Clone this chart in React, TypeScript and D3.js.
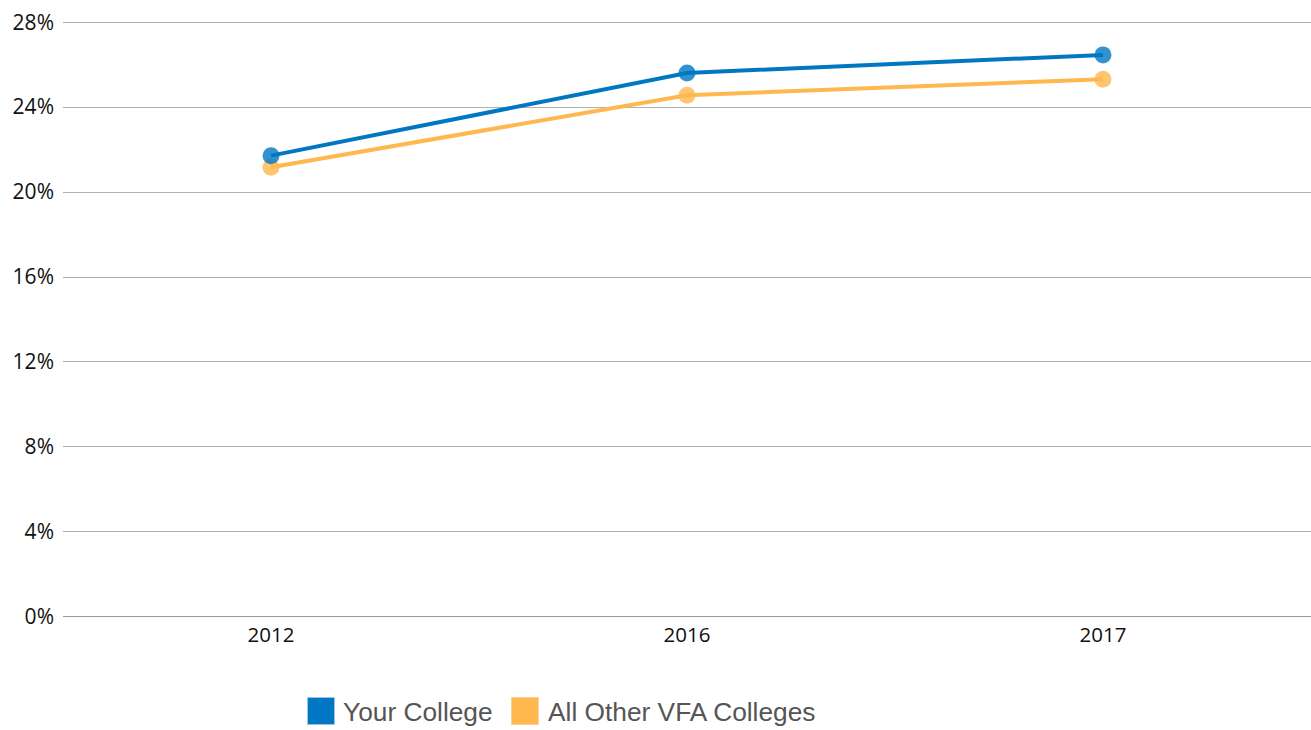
import React from "react";
import * as d3 from "d3";

const categories = ["2012", "2016", "2017"];
const yourCollege = [21.7, 25.6, 26.45];
const otherColleges = [21.15, 24.55, 25.3];
const yTicks = [0, 4, 8, 12, 16, 20, 24, 28];
const seriesNames = ["Your College", "All Other VFA Colleges"];
const seriesColors = ["#0077c2", "#ffb84e"];

export default function App() {
  const W = 1311, H = 730;
  const left = 63, right = 1311, top = 22, bottom = 616;
  const x = d3.scaleBand<string>().domain(categories).range([left, right]);
  const y = d3.scaleLinear().domain([0, 28]).range([bottom, top]);
  const cx = (c: string) => (x(c) as number) + x.bandwidth() / 2;
  const line = d3
    .line<number>()
    .x((_, i) => cx(categories[i]))
    .y((d) => y(d));
  const series = [yourCollege, otherColleges];
  const font = "'Open Sans', sans-serif";
  return (
    <svg
      width={W}
      height={H}
      style={{ position: "absolute", left: 0, top: 0, background: "#fff" }}
    >
      {yTicks.map((t) => (
        <g key={t}>
          <line
            x1={left}
            x2={right}
            y1={Math.round(y(t)) + 0.5}
            y2={Math.round(y(t)) + 0.5}
            stroke={t === 0 ? "#999" : "#b0b0b0"}
            strokeWidth={1}
          />
          <text
            x={54}
            y={y(t) + 7.5}
            textAnchor="end"
            fontFamily={font}
            fontSize={21}
            fill="#111"
          >
            {t}%
          </text>
        </g>
      ))}
      {categories.map((c) => (
        <text
          key={c}
          x={cx(c)}
          y={642}
          textAnchor="middle"
          fontFamily={font}
          fontSize={20.5}
          fill="#111"
        >
          {c}
        </text>
      ))}
      {series
        .slice()
        .reverse()
        .map((s, ri) => {
          const i = series.length - 1 - ri;
          return (
            <g key={i}>
              <path
                d={line(s) as string}
                fill="none"
                stroke={seriesColors[i]}
                strokeWidth={4}
              />
              {s.map((v, j) => (
                <circle
                  key={j}
                  cx={cx(categories[j])}
                  cy={y(v)}
                  r={8.5}
                  fill={seriesColors[i]}
                  fillOpacity={0.8}
                />
              ))}
            </g>
          );
        })}
      <g>
        <rect x={307.5} y={697.5} width={27} height={27} fill={seriesColors[0]} stroke="#9cc6e4" strokeWidth={1} />
        <text x={343} y={721} fontFamily="'Liberation Sans', Arial, sans-serif" fontSize={26.3} fill="#555">
          {seriesNames[0]}
        </text>
        <rect x={511.5} y={697.5} width={27} height={27} fill={seriesColors[1]} stroke="#f5d39a" strokeWidth={1} />
        <text x={548} y={721} fontFamily="'Liberation Sans', Arial, sans-serif" fontSize={26.3} fill="#555">
          {seriesNames[1]}
        </text>
      </g>
    </svg>
  );
}
